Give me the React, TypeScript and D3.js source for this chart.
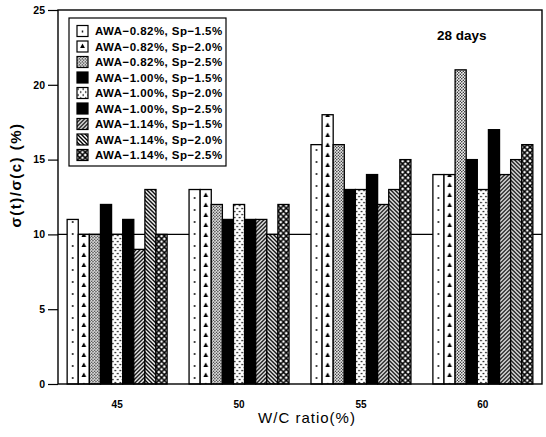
import { useEffect, useRef } from 'react'
import * as d3 from 'd3'

const WC_RATIOS = ['45', '50', '55', '60']
const SERIES = [
  'AWA−0.82%, Sp−1.5%',
  'AWA−0.82%, Sp−2.0%',
  'AWA−0.82%, Sp−2.5%',
  'AWA−1.00%, Sp−1.5%',
  'AWA−1.00%, Sp−2.0%',
  'AWA−1.00%, Sp−2.5%',
  'AWA−1.14%, Sp−1.5%',
  'AWA−1.14%, Sp−2.0%',
  'AWA−1.14%, Sp−2.5%',
]
const PATTERNS = ['dot', 'spade', 'fine', 'black', 'stipple', 'black', 'fwd', 'back', 'cross']
const VALUES_45 = [11, 10, 10, 12, 10, 11, 9, 13, 10]
const VALUES_50 = [13, 13, 12, 11, 12, 11, 11, 10, 12]
const VALUES_55 = [16, 18, 16, 13, 13, 14, 12, 13, 15]
const VALUES_60 = [14, 14, 21, 15, 13, 17, 14, 15, 16]
const Y_TICKS = [0, 5, 10, 15, 20, 25]
const REFERENCE = 10

type Sel = d3.Selection<SVGDefsElement, unknown, null, undefined>

// builds a pattern tile aligned to x0, returns the fill string
function paint(defs: Sel, id: string, kind: string, x0: number, y0: number, w: number): string {
  if (kind === 'black') return '#000'
  const p = defs.append('pattern')
    .attr('id', id)
    .attr('patternUnits', 'userSpaceOnUse')
    .attr('x', x0)
    .attr('y', y0)
  const bg = (tw: number, th: number) => {
    p.attr('width', tw).attr('height', th)
    p.append('rect').attr('width', tw).attr('height', th).attr('fill', '#fff')
  }
  if (kind === 'dot') {
    bg(w, 12)
    p.append('circle').attr('cx', w / 2).attr('cy', 6).attr('r', 0.9).attr('fill', '#000')
  } else if (kind === 'spade') {
    bg(w, 10)
    const c = w / 2
    p.append('path')
      .attr('d', `M${c},2.5 L${c + 2.4},7 L${c - 2.4},7 Z`)
      .attr('fill', '#000')
  } else if (kind === 'fine') {
    bg(3, 3)
    p.append('circle').attr('cx', 0.75).attr('cy', 0.75).attr('r', 0.75).attr('fill', '#000')
    p.append('circle').attr('cx', 2.25).attr('cy', 2.25).attr('r', 0.75).attr('fill', '#000')
  } else if (kind === 'stipple') {
    bg(5, 6)
    p.append('circle').attr('cx', 1.2).attr('cy', 1.5).attr('r', 0.85).attr('fill', '#000')
    p.append('circle').attr('cx', 3.7).attr('cy', 4.5).attr('r', 0.85).attr('fill', '#000')
  } else if (kind === 'fwd') {
    bg(4, 4)
    p.append('path')
      .attr('d', 'M0,4 L4,0 M-1,1 L1,-1 M3,5 L5,3')
      .attr('stroke', '#000').attr('stroke-width', 1.4)
  } else if (kind === 'back') {
    bg(4, 4)
    p.append('path')
      .attr('d', 'M0,0 L4,4 M-1,3 L1,5 M3,-1 L5,1')
      .attr('stroke', '#000').attr('stroke-width', 1.4)
  } else if (kind === 'cross') {
    const t = w / 2
    bg(t, t)
    p.append('path')
      .attr('d', `M0,0 L${t},${t} M${t},0 L0,${t}`)
      .attr('stroke', '#000').attr('stroke-width', 1.5)
  }
  return `url(#${id})`
}

export default function App() {
  const svgRef = useRef<SVGSVGElement>(null)

  useEffect(() => {
    if (!svgRef.current) return
    const svg = d3.select(svgRef.current)
    svg.selectAll('*').remove()

    const values = [VALUES_45, VALUES_50, VALUES_55, VALUES_60]
    const margin = { top: 10, right: 4, bottom: 53, left: 58 }
    const W = 546
    const H = 437

    const x0 = d3.scaleBand<string>()
      .domain(WC_RATIOS)
      .range([margin.left, W - margin.right])
      .paddingInner(0.18)
      .paddingOuter(0.075)
    const x1 = d3.scaleBand<string>()
      .domain(SERIES)
      .range([0, x0.bandwidth()])
    const y = d3.scaleLinear().domain([0, 25]).range([H - margin.bottom, margin.top])

    const defs = svg.append('defs') as unknown as Sel
    const font = 'Liberation Sans, Arial, sans-serif'

    // reference line at 10%
    svg.append('line')
      .attr('x1', margin.left).attr('x2', W - margin.right)
      .attr('y1', y(REFERENCE)).attr('y2', y(REFERENCE))
      .attr('stroke', '#000').attr('stroke-width', 1.2)

    // bars
    WC_RATIOS.forEach((g, gi) => {
      SERIES.forEach((s, si) => {
        const v = values[gi][si]
        const bx = x0(g)! + x1(s)!
        const fill = paint(defs, `p${gi}-${si}`, PATTERNS[si], bx, 0, x1.bandwidth())
        svg.append('rect')
          .attr('x', bx)
          .attr('y', y(v))
          .attr('width', x1.bandwidth())
          .attr('height', y(0) - y(v))
          .attr('fill', fill)
          .attr('stroke', '#000')
          .attr('stroke-width', 1.3)
      })
    })

    // frame
    svg.append('rect')
      .attr('x', margin.left).attr('y', margin.top)
      .attr('width', W - margin.right - margin.left)
      .attr('height', y(0) - margin.top)
      .attr('fill', 'none')
      .attr('stroke', '#000')
      .attr('stroke-width', 1.4)

    // y axis
    const yAxis = svg.append('g')
      .attr('transform', `translate(${margin.left},0)`)
      .call(d3.axisLeft(y).tickValues(Y_TICKS).tickSize(10).tickPadding(3).tickFormat(d3.format('d')))
    yAxis.select('.domain').remove()
    yAxis.selectAll('line').attr('stroke', '#000').attr('stroke-width', 1.2)
    yAxis.selectAll('text')
      .attr('font-size', 10.5)
      .attr('font-weight', 700)
      .attr('font-family', font)
      .attr('fill', '#000')

    // x axis labels
    const xAxis = svg.append('g')
      .attr('transform', `translate(0,${y(0)})`)
      .call(d3.axisBottom(x0).tickSize(0).tickPadding(17))
    xAxis.select('.domain').remove()
    xAxis.selectAll('text')
      .attr('font-size', 10)
      .attr('font-weight', 700)
      .attr('font-family', font)
      .attr('fill', '#000')

    svg.append('text')
      .attr('x', 307).attr('y', 423)
      .attr('text-anchor', 'middle')
      .attr('font-size', 15)
      .attr('letter-spacing', 1)
      .attr('font-family', font)
      .attr('fill', '#000')
      .text('W/C ratio(%)')

    svg.append('text')
      .attr('transform', `translate(21,${(y(0) + margin.top) / 2 - 22}) rotate(-90)`)
      .attr('text-anchor', 'middle')
      .attr('font-size', 15)
      .attr('font-weight', 700)
      .attr('letter-spacing', 1.5)
      .attr('font-family', font)
      .attr('fill', '#000')
      .text('σ(t)/σ(c) (%)')

    svg.append('text')
      .attr('x', 437).attr('y', 40)
      .attr('font-size', 13.5)
      .attr('font-weight', 700)
      .attr('font-family', font)
      .attr('fill', '#000')
      .text('28 days')

    // legend
    const lg = svg.append('g')
    lg.append('rect')
      .attr('x', 69).attr('y', 18)
      .attr('width', 157).attr('height', 148)
      .attr('fill', '#fff')
      .attr('stroke', '#000')
      .attr('stroke-width', 1.2)
    SERIES.forEach((s, i) => {
      const ry = 31 + i * 15.5
      const fill = paint(defs, `lg-${i}`, PATTERNS[i], 77, ry - 5.5, 11)
      lg.append('rect')
        .attr('x', 77).attr('y', ry - 5.5)
        .attr('width', 11).attr('height', 11)
        .attr('fill', fill)
        .attr('stroke', '#000')
        .attr('stroke-width', 1.2)
      lg.append('text')
        .attr('x', 95).attr('y', ry)
        .attr('dy', '0.35em')
        .attr('font-size', 11.5)
        .attr('font-weight', 700)
        .attr('letter-spacing', 0.45)
        .attr('font-family', font)
        .attr('fill', '#000')
        .text(s)
    })
  }, [])

  return (
    <svg
      ref={svgRef}
      width={546}
      height={437}
      style={{ position: 'absolute', left: 0, top: 0, background: '#fff' }}
    />
  )
}
